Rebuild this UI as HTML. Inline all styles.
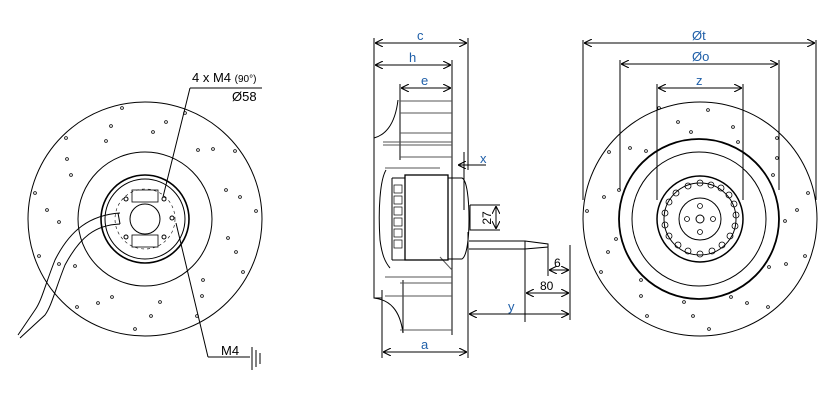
<!DOCTYPE html>
<html><head><meta charset="utf-8"><style>
html,body{margin:0;padding:0;background:#fff;width:834px;height:413px;overflow:hidden}
svg{display:block}
text{font-family:"Liberation Sans",Arial,sans-serif}
.b{fill:#1f5fa8;font-size:13px}
</style></head><body>
<svg width="834" height="413" viewBox="0 0 834 413" xmlns="http://www.w3.org/2000/svg">
<defs>
<marker id="a" viewBox="0 0 10 10" refX="10" refY="5" markerWidth="8" markerHeight="8" orient="auto-start-reverse" markerUnits="userSpaceOnUse"><path d="M0,0 L10,5 L0,10" fill="none" stroke="#000" stroke-width="1.3"/></marker>
</defs>
<g fill="none" stroke="#000" stroke-width="1">
<!-- LEFT VIEW -->
<circle cx="145" cy="219" r="117"/>
<circle cx="145" cy="219" r="67"/>
<circle cx="145" cy="219" r="44" stroke-width="1.6"/>
<circle cx="145" cy="219" r="40"/>
<circle cx="145" cy="219" r="15"/>
<circle cx="145" cy="219" r="30" stroke-dasharray="3,3" stroke-width="0.6"/>
<rect x="132" y="190" width="26" height="12" stroke-width="0.8"/>
<rect x="132" y="235" width="26" height="12" stroke-width="0.8"/>
<circle cx="126" cy="199" r="2"/><circle cx="164" cy="199" r="2"/><circle cx="126" cy="237" r="2"/><circle cx="164" cy="237" r="2"/><circle cx="172" cy="218" r="2"/>
<path d="M120,213 C90,215 70,230 55,260 C45,285 42,300 35,310 L18,335" stroke-width="1"/>
<path d="M120,224 C95,225 80,237 65,265 C55,290 52,305 45,315 L20,338" stroke-width="1"/>
<path d="M118,213 L120,224" />
<path d="M190,88 L262,88 M190,88 L163,197 M208,357 L250,357 M176,223 L208,357"/>
<path d="M252,347 L252,370 M256,350 L256,367 M260,353 L260,364"/>
<!-- RIGHT VIEW -->
<circle cx="700" cy="219" r="117"/>
<circle cx="699" cy="219" r="80" stroke-width="1.8"/>
<circle cx="699" cy="219" r="67"/>
<circle cx="700" cy="219" r="43" stroke-width="1.5"/>
<circle cx="700" cy="219" r="36"/>
<circle cx="700" cy="219" r="21"/>
<circle cx="700" cy="219" r="4"/>
<g stroke-width="0.8">
<circle cx="700" cy="206" r="2.5"/><circle cx="700" cy="232" r="2.5"/><circle cx="687" cy="219" r="2.5"/><circle cx="713" cy="219" r="2.5"/>
<circle cx="700" cy="183" r="3"/><circle cx="711" cy="185" r="3"/><circle cx="721" cy="188" r="3"/><circle cx="729" cy="195" r="3"/><circle cx="734" cy="204" r="3"/><circle cx="736" cy="215" r="3"/><circle cx="735" cy="226" r="3"/><circle cx="730" cy="236" r="3"/><circle cx="722" cy="245" r="3"/><circle cx="712" cy="251" r="3"/><circle cx="700" cy="254" r="3"/><circle cx="688" cy="251" r="3"/><circle cx="678" cy="245" r="3"/><circle cx="669" cy="236" r="3"/><circle cx="665" cy="225" r="3"/><circle cx="665" cy="213" r="3"/><circle cx="669" cy="202" r="3"/><circle cx="676" cy="193" r="3"/><circle cx="688" cy="186" r="3"/>
</g>
<!-- dims right -->
<path d="M583,40 L583,200 M816,40 L816,200 M620,60 L620,190 M779,60 L779,190 M657,84 L657,200 M743,84 L743,200"/>
<path d="M584,43 L815,43" marker-start="url(#a)" marker-end="url(#a)"/>
<path d="M621,64 L778,64" marker-start="url(#a)" marker-end="url(#a)"/>
<path d="M658,88 L742,88" marker-start="url(#a)" marker-end="url(#a)"/>
<!-- MIDDLE VIEW -->
<path d="M374,38 L374,298 L382,298 M468,38 L468,170 M452,60 L452,335 M400,84 L400,100 M382,290 L382,358 M468,232 L468,358"/>
<path d="M375,43 L467,43" marker-start="url(#a)" marker-end="url(#a)"/>
<path d="M375,65 L451,65" marker-start="url(#a)" marker-end="url(#a)"/>
<path d="M401,88 L451,88" marker-start="url(#a)" marker-end="url(#a)"/>
<path d="M383,352 L467,352" marker-start="url(#a)" marker-end="url(#a)"/>
<!-- blades -->
<path d="M374,138 C385,135 395,125 398,100 M374,298 C390,300 400,310 403,333 M400,100 L400,160 M403,280 L403,333"/>
<g stroke="#555"><path d="M400,101 L452,101 M400,113 L452,113 M400,133 L452,133 M383,142 L452,142 M383,145 L452,145 M400,157 L452,157 M385,168 L440,168 M400,283 L452,283 M385,277 L452,277 M385,296 L452,296 M400,330 L452,330 M440,257 L452,270"/></g>
<path d="M386,170 C380,180 378,210 380,240 C382,255 385,262 390,268"/>
<path d="M392,178 L405,178 M392,260 L405,260 M392,178 L392,260"/>
<g stroke-width="0.7"><rect x="394" y="185" width="8" height="8"/><rect x="394" y="196" width="8" height="8"/><rect x="394" y="207" width="8" height="8"/><rect x="394" y="218" width="8" height="8"/><rect x="394" y="229" width="8" height="8"/><rect x="394" y="240" width="8" height="8"/></g>
<rect x="405" y="175" width="43" height="85" stroke-width="1.3"/>
<path d="M448,178 L462,178 C467,180 469,200 469,219 C469,238 467,256 462,259 L448,259"/>
<path d="M470,205 L470,230 L500,230 M470,205 L500,205"/>
<path d="M496,206 L496,229" marker-start="url(#a)" marker-end="url(#a)"/>
<path d="M480,165 L458,165" marker-end="url(#a)"/><path d="M464,152 L464,210"/><path d="M486,165 L480,165"/>
<path d="M469,241 L525,241 L548,244 L548,247 L525,249 L469,249 M525,241 L525,322 M548,244 L548,276 M570,245 L570,320"/>
<path d="M549,270 L569,270" marker-start="url(#a)" marker-end="url(#a)"/>
<path d="M526,293 L569,293" marker-start="url(#a)" marker-end="url(#a)"/>
<path d="M469,314 L569,314" marker-start="url(#a)" marker-end="url(#a)"/>
</g>
<!-- scattered rivets -->
<g fill="none" stroke="#000" stroke-width="0.8">
<circle cx="122" cy="108" r="1.4"/><circle cx="185" cy="113" r="1.4"/><circle cx="166" cy="122" r="1.4"/><circle cx="111" cy="126" r="1.4"/><circle cx="153" cy="132" r="1.4"/><circle cx="66" cy="138" r="1.4"/><circle cx="106" cy="141" r="1.4"/><circle cx="198" cy="150" r="1.4"/><circle cx="213" cy="149" r="1.4"/><circle cx="235" cy="151" r="1.4"/><circle cx="67" cy="159" r="1.4"/><circle cx="71" cy="175" r="1.4"/><circle cx="35" cy="193" r="1.4"/><circle cx="226" cy="190" r="1.4"/><circle cx="240" cy="197" r="1.4"/><circle cx="47" cy="210" r="1.4"/><circle cx="256" cy="211" r="1.4"/><circle cx="59" cy="222" r="1.4"/><circle cx="228" cy="238" r="1.4"/><circle cx="236" cy="252" r="1.4"/><circle cx="39" cy="256" r="1.4"/><circle cx="59" cy="264" r="1.4"/><circle cx="75" cy="266" r="1.4"/><circle cx="243" cy="272" r="1.4"/><circle cx="203" cy="280" r="1.4"/><circle cx="202" cy="296" r="1.4"/><circle cx="112" cy="297" r="1.4"/><circle cx="98" cy="303" r="1.4"/><circle cx="77" cy="307" r="1.4"/><circle cx="160" cy="302" r="1.4"/><circle cx="151" cy="316" r="1.4"/><circle cx="197" cy="316" r="1.4"/><circle cx="135" cy="329" r="1.4"/>
<circle cx="659" cy="108" r="1.4"/><circle cx="708" cy="110" r="1.4"/><circle cx="678" cy="122" r="1.4"/><circle cx="733" cy="127" r="1.4"/><circle cx="691" cy="132" r="1.4"/><circle cx="738" cy="142" r="1.4"/><circle cx="777" cy="138" r="1.4"/><circle cx="609" cy="152" r="1.4"/><circle cx="630" cy="148" r="1.4"/><circle cx="646" cy="151" r="1.4"/><circle cx="777" cy="158" r="1.4"/><circle cx="773" cy="175" r="1.4"/><circle cx="619" cy="190" r="1.4"/><circle cx="808" cy="193" r="1.4"/><circle cx="604" cy="197" r="1.4"/><circle cx="587" cy="211" r="1.4"/><circle cx="797" cy="210" r="1.4"/><circle cx="785" cy="221" r="1.4"/><circle cx="616" cy="239" r="1.4"/><circle cx="608" cy="252" r="1.4"/><circle cx="805" cy="256" r="1.4"/><circle cx="786" cy="264" r="1.4"/><circle cx="769" cy="267" r="1.4"/><circle cx="601" cy="272" r="1.4"/><circle cx="641" cy="280" r="1.4"/><circle cx="641" cy="296" r="1.4"/><circle cx="684" cy="302" r="1.4"/><circle cx="731" cy="297" r="1.4"/><circle cx="747" cy="303" r="1.4"/><circle cx="768" cy="307" r="1.4"/><circle cx="693" cy="316" r="1.4"/><circle cx="647" cy="316" r="1.4"/><circle cx="709" cy="329" r="1.4"/>
</g>
<!-- labels -->
<text x="192" y="82" font-size="13">4 x M4 <tspan font-size="10">(90°)</tspan></text>
<text x="232" y="101" font-size="13">Ø58</text>
<text x="221" y="355" font-size="13">M4</text>
<text class="b" x="417" y="40">c</text>
<text class="b" x="409" y="62">h</text>
<text class="b" x="421" y="85">e</text>
<text class="b" x="480" y="163">x</text>
<text font-size="12" text-anchor="middle" transform="translate(491,218) rotate(-90)">27</text>
<text x="554" y="267" font-size="12">6</text>
<text x="540" y="290" font-size="12">80</text>
<text class="b" x="508" y="311">y</text>
<text class="b" x="421" y="349">a</text>
<text class="b" x="692" y="40">Øt</text>
<text class="b" x="692" y="61">Øo</text>
<text class="b" x="696" y="85">z</text>
</svg>
</body></html>
